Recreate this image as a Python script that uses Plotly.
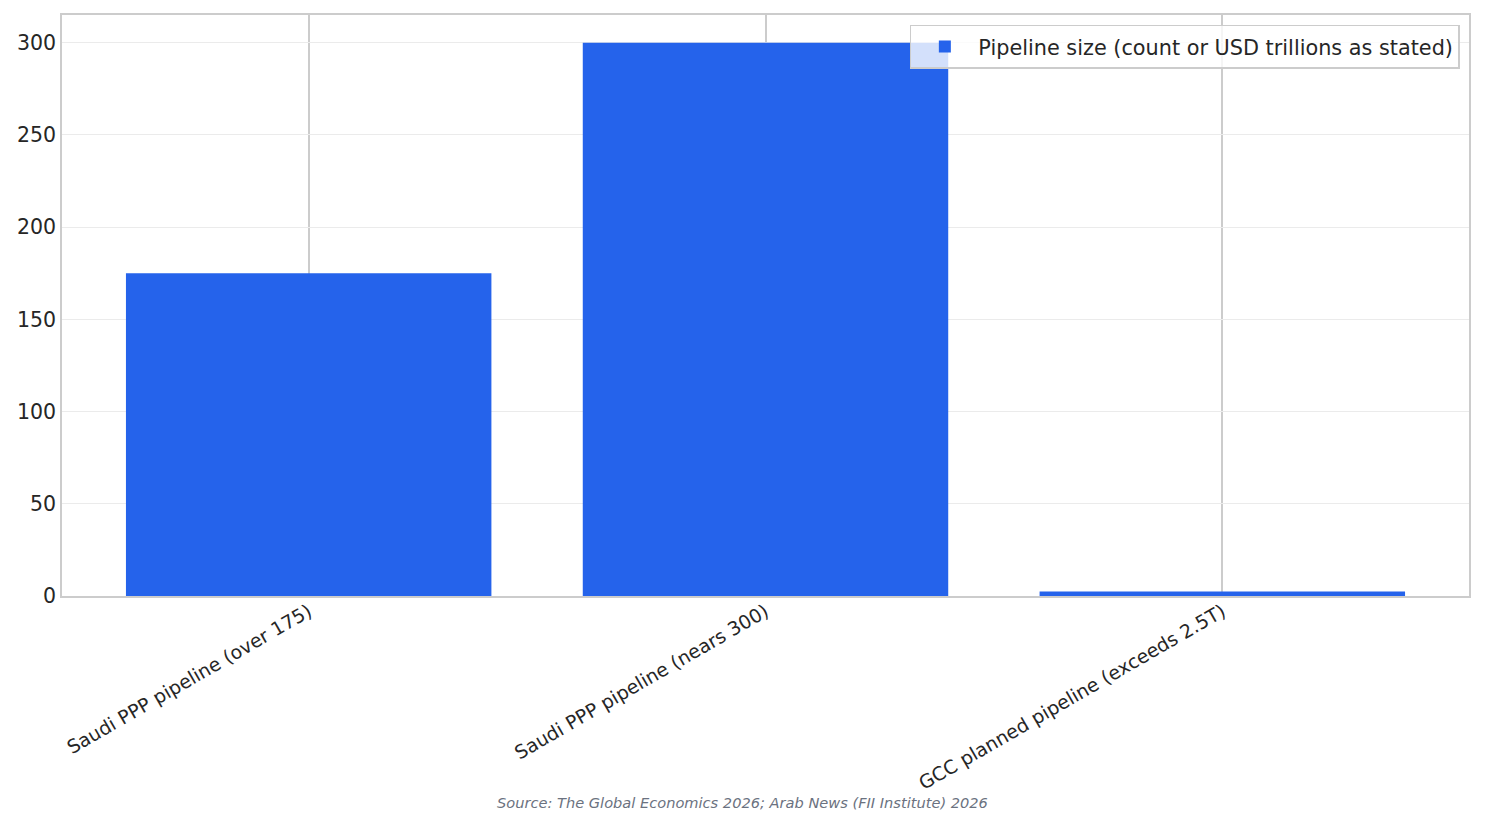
import plotly.graph_objects as go

categories = [
    "Saudi PPP pipeline (over 175)",
    "Saudi PPP pipeline (nears 300)",
    "GCC planned pipeline (exceeds 2.5T)",
]
values = [175, 300, 2.5]
series_name = "Pipeline size (count or USD trillions as stated)"
y_ticks = [0, 50, 100, 150, 200, 250, 300]
source_text = "Source: The Global Economics 2026; Arab News (FII Institute) 2026"

W, H = 1485, 824
L, R, T, B = 62, 16, 15, 228

fig = go.Figure()
fig.add_trace(go.Bar(
    x=categories, y=values, name=series_name,
    marker=dict(color="#2563EB", line=dict(width=0)),
    width=0.8, showlegend=True,
))

fig.update_layout(
    width=W, height=H,
    margin=dict(l=L, r=R, t=T, b=B, pad=0),
    paper_bgcolor="white", plot_bgcolor="white",
    font=dict(family="DejaVu Sans", color="#262626"),
    showlegend=True,
    legend=dict(
        x=0.9935, y=0.983, xanchor="right", yanchor="top",
        bgcolor="rgba(255,255,255,0.8)", bordercolor="#cccccc", borderwidth=1.5,
        font=dict(size=20.8, color="#262626", family="DejaVu Sans"),
        itemwidth=57, tracegroupgap=0,
    ),
    xaxis=dict(
        type="category", range=[-0.54, 2.54],
        showgrid=True, gridcolor="#cccccc", gridwidth=1.5,
        tickangle=-30, tickfont=dict(size=18.9, color="#262626"),
        ticks="", ticklabelstandoff=-4,
        showline=True, linecolor="#cccccc", linewidth=1.5, mirror=True,
        zeroline=False,
    ),
    yaxis=dict(
        range=[0, 315], tickvals=y_ticks,
        showgrid=True, gridcolor="#ebebeb", gridwidth=1.2,
        tickfont=dict(size=20.5, color="#262626"),
        ticks="", ticklen=0, showline=True, linecolor="#cccccc", linewidth=1.5, mirror=True,
        zeroline=False,
    ),
    annotations=[dict(
        text="<i>" + source_text + "</i>", xref="paper", yref="paper",
        x=(742.5 - L) / (W - L - R), y=-(802 - 596) / (H - T - B),
        xanchor="center", yanchor="middle", showarrow=False,
        font=dict(size=14.6, color="#6b7280", family="DejaVu Sans"),
    )],
)

fig.write_html(
    "out.html",
    config={"displayModeBar": False},
    post_script="document.body.style.margin='0';document.body.style.padding='0';",
)
